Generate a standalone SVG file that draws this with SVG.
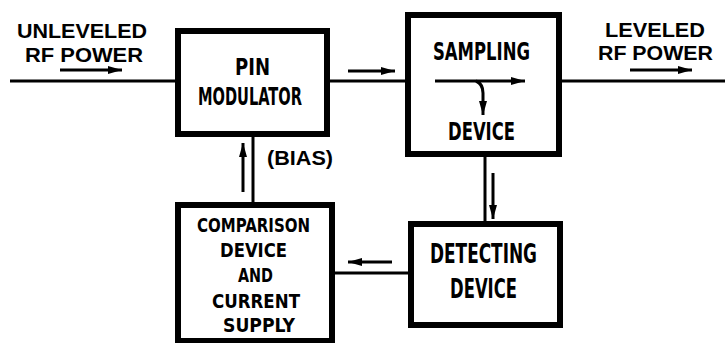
<svg xmlns="http://www.w3.org/2000/svg" width="725" height="343" viewBox="0 0 725 343">
<defs>
<marker id="ah" markerUnits="userSpaceOnUse" markerWidth="16" markerHeight="10" refX="14" refY="5" orient="auto">
<path d="M0,1 L14,5 L0,9 Z" fill="#000"/>
</marker>
<style>
.box{fill:#fff;stroke:#000;stroke-width:6}
.ln{fill:none;stroke:#000;stroke-width:3}
.ar{fill:none;stroke:#000;stroke-width:3;marker-end:url(#ah)}
.lab{font-family:"Liberation Sans",Arial,sans-serif;font-weight:bold;font-size:21px;fill:#000}
.bt{font-family:"DejaVu Sans Condensed","DejaVu Sans",sans-serif;font-weight:bold;font-size:24px;fill:#000}
.ct{font-family:"DejaVu Sans Condensed","DejaVu Sans",sans-serif;font-weight:bold;font-size:20px;fill:#000}
</style>
</defs>
<rect width="725" height="343" fill="#fff"/>
<g id="connectors">
<line class="ln" x1="10" y1="81" x2="178" y2="81"/>
<line class="ln" x1="330" y1="81" x2="408" y2="81"/>
<line class="ln" x1="560" y1="81" x2="725" y2="81"/>
<line class="ln" x1="253" y1="137" x2="253" y2="205"/>
<line class="ln" x1="485" y1="157" x2="485" y2="224"/>
<line class="ln" x1="332" y1="273" x2="411" y2="273"/>
<line class="ar" x1="60" y1="70" x2="122" y2="70"/>
<line class="ar" x1="348" y1="71" x2="395" y2="71"/>
<line class="ar" x1="630" y1="70" x2="692" y2="70"/>
<line class="ar" x1="243" y1="192" x2="243" y2="143"/>
<line class="ar" x1="493" y1="173" x2="493" y2="219"/>
<line class="ar" x1="392" y1="262" x2="348" y2="262"/>
</g>
<g id="unleveled-label">
<text class="lab" x="17" y="38" textLength="130" lengthAdjust="spacingAndGlyphs">UNLEVELED</text>
<text class="lab" x="25" y="62" textLength="118" lengthAdjust="spacingAndGlyphs">RF POWER</text>
</g>
<g id="leveled-label">
<text class="lab" x="605" y="37" textLength="100" lengthAdjust="spacingAndGlyphs">LEVELED</text>
<text class="lab" x="598" y="60" textLength="115" lengthAdjust="spacingAndGlyphs">RF POWER</text>
</g>
<g id="pin-modulator">
<rect class="box" x="178" y="31" width="149" height="103"/>
<text class="bt" x="235" y="75" textLength="35" lengthAdjust="spacingAndGlyphs" style="font-size:23px">PIN</text>
<text class="bt" x="198" y="105" textLength="104" lengthAdjust="spacingAndGlyphs">MODULATOR</text>
</g>
<g id="bias-label">
<text class="lab" x="267" y="165" textLength="66" lengthAdjust="spacingAndGlyphs" style="font-size:20px">(BIAS)</text>
</g>
<g id="sampling-device">
<rect class="box" x="408" y="15" width="151" height="139"/>
<text class="bt" x="433" y="60" textLength="97" lengthAdjust="spacingAndGlyphs">SAMPLING</text>
<line class="ar" x1="435" y1="81" x2="525" y2="81"/>
<path class="ar" d="M476,81 Q483,84 483,93 L483,115"/>
<text class="bt" x="448" y="140" textLength="67" lengthAdjust="spacingAndGlyphs">DEVICE</text>
</g>
<g id="comparison-device">
<rect class="box" x="178" y="205" width="154" height="136"/>
<text class="ct" x="197" y="232" textLength="113" lengthAdjust="spacingAndGlyphs">COMPARISON</text>
<text class="ct" x="220" y="257" textLength="67" lengthAdjust="spacingAndGlyphs">DEVICE</text>
<text class="ct" x="238" y="282" textLength="35" lengthAdjust="spacingAndGlyphs">AND</text>
<text class="ct" x="212" y="308" textLength="88" lengthAdjust="spacingAndGlyphs">CURRENT</text>
<text class="ct" x="223" y="332" textLength="72" lengthAdjust="spacingAndGlyphs">SUPPLY</text>
</g>
<g id="detecting-device">
<rect class="box" x="411" y="224" width="149" height="101"/>
<text class="bt" x="430" y="263" textLength="107" lengthAdjust="spacingAndGlyphs" style="font-size:26px">DETECTING</text>
<text class="bt" x="450" y="298" textLength="67" lengthAdjust="spacingAndGlyphs" style="font-size:26px">DEVICE</text>
</g>
</svg>
